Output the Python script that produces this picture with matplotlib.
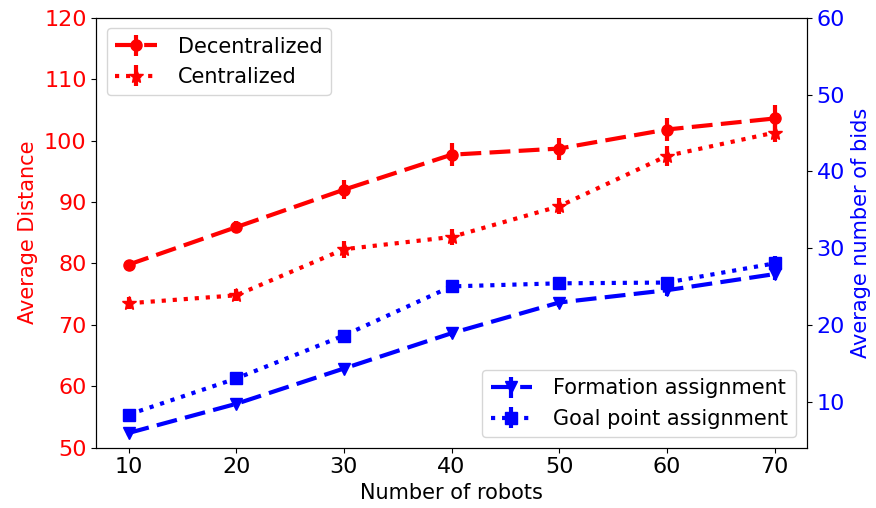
import matplotlib
matplotlib.use('Agg')
from matplotlib import pyplot as plt

robots = [10, 20, 30, 40, 50, 60, 70]

decentralized = [79.8, 85.9, 92.0, 97.7, 98.7, 101.8, 103.6]
decentralized_err = [0.8, 1.0, 1.5, 1.9, 1.8, 1.8, 2.2]
centralized = [73.5, 74.8, 82.3, 84.3, 89.3, 97.5, 101.3]
centralized_err = [1.0, 1.0, 1.4, 1.3, 1.3, 1.6, 1.5]

formation_bids = [5.9, 9.7, 14.3, 18.9, 22.9, 24.5, 26.6]
formation_err = [0.4, 0.4, 0.4, 0.5, 0.6, 0.7, 0.8]
goal_bids = [8.3, 13.0, 18.6, 25.0, 25.4, 25.5, 28.0]
goal_err = [0.4, 0.4, 0.5, 0.5, 0.6, 0.7, 0.9]

fig, ax1 = plt.subplots(figsize=(8.76, 5.08), dpi=100)
fig.subplots_adjust(left=0.11, right=0.921, top=0.965, bottom=0.119)
ax2 = ax1.twinx()

style = dict(linewidth=3, elinewidth=3, markersize=8, capsize=0)
ax1.errorbar(robots, decentralized, yerr=decentralized_err, color='r', marker='o',
             linestyle='--', dashes=(5, 2), label='Decentralized', **style)
ax1.errorbar(robots, centralized, yerr=centralized_err, color='r', marker='*',
             linestyle=':', label='Centralized', markersize=10, linewidth=3, elinewidth=3)
ax2.errorbar(robots, formation_bids, yerr=formation_err, color='b', marker='v',
             linestyle='--', dashes=(5, 2), label='Formation assignment', **style)
ax2.errorbar(robots, goal_bids, yerr=goal_err, color='b', marker='s',
             linestyle=':', label='Goal point assignment', **style)

ax1.set_xlim(7, 73)
ax1.set_ylim(50, 120)
ax2.set_ylim(4, 60)
ax1.set_xticks(robots)
ax1.set_yticks(range(50, 121, 10))
ax2.set_yticks(range(10, 61, 10))

ax1.set_xlabel('Number of robots', fontsize=15)
ax1.set_ylabel('Average Distance', color='r', fontsize=15)
ax2.set_ylabel('Average number of bids', color='b', fontsize=15)
ax1.tick_params(axis='x', labelsize=16)
ax1.tick_params(axis='y', labelsize=16, labelcolor='r')
ax2.tick_params(axis='y', labelsize=16, labelcolor='b')

ax1.legend(loc='upper left', fontsize=15, handletextpad=1.0)
ax2.legend(loc='lower right', fontsize=15, handletextpad=1.0)

fig.savefig('out.png')
